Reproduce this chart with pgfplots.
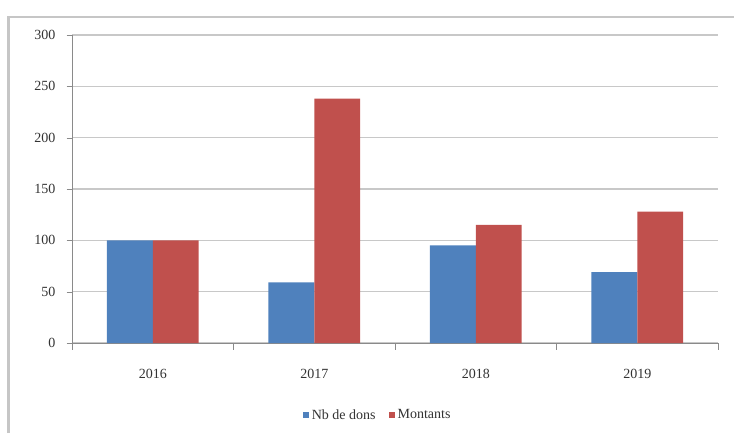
\documentclass[border=0pt]{standalone}
\usepackage{pgfplots}
\pgfplotsset{compat=1.18}
\usepackage{fontspec}
\setmainfont{Liberation Serif}
\newfontfamily\lserif{Liberation Serif}
\definecolor{cblue}{HTML}{4F81BD}
\definecolor{cred}{HTML}{C0504D}
\definecolor{gridc}{HTML}{C8C8C8}
\definecolor{axc}{HTML}{8A8A8A}
\begin{document}
\begin{tikzpicture}
\path[use as bounding box] (0pt,0pt) rectangle (550.5pt,324.75pt);
\draw[gray!45, line width=1.8pt] (6.4pt,0pt) -- (6.4pt,312pt) -- (550.5pt,312pt);
\begin{axis}[
  at={(54pt,67.5pt)}, anchor=south west,
  scale only axis, width=484.5pt, height=231pt,
  xmin=-0.5, xmax=3.5, ymin=0, ymax=300,
  ybar=0pt, bar width=0.284,
  xtick={0,1,2,3}, xticklabels={2016,2017,2018,2019},
  ytick={0,50,...,300},
  extra x ticks={-0.5,0.5,1.5,2.5,3.5}, extra x tick labels={},
  extra x tick style={major tick length=5pt, xticklabel style={opacity=0}},
  x tick style={draw=none},
  extra x tick style={x tick style={draw=axc}},
  y tick style={draw=axc},
  major tick length=4pt,
  tick align=outside,
  axis x line*=bottom, axis y line*=left,
  axis line style={draw=axc, line width=0.6pt},
  ymajorgrids, grid style={draw=gridc, line width=0.8pt},
  tick label style={font=\lserif\fontsize{10.5}{12}\selectfont, text=black!80},
  xticklabel style={yshift=-12pt},
  yticklabel style={xshift=-5pt},
  /pgf/number format/assume math mode=true,
  legend style={draw=none, at={(0.474,-0.235)}, anchor=center,
    legend columns=2, font=\lserif\fontsize{10.5}{12}\selectfont, text=black!80,
    /tikz/every even column/.append style={column sep=8pt}},
  legend image code/.code={\fill[#1] (0pt,-2.2pt) rectangle (4.5pt,2.3pt);},
]
\addplot[fill=cblue, draw=none] coordinates {(0,100) (1,59) (2,95) (3,69)};
\addplot[fill=cred, draw=none] coordinates {(0,100) (1,238) (2,115) (3,128)};
\legend{{\lserif Nb de dons}, {\lserif Montants}}
\end{axis}
\end{tikzpicture}
\end{document}
